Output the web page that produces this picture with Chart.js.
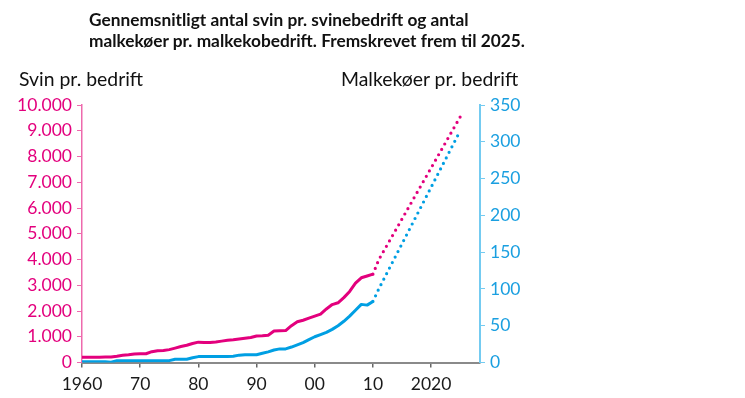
<!DOCTYPE html>
<html>
<head>
<meta charset="utf-8">
<script src="https://cdn.jsdelivr.net/npm/chart.js@4.4.1/dist/chart.umd.min.js"></script>
<style>
  body { margin: 0; background: #fff; }
  #wrap { position: relative; width: 745px; height: 398px; font-family: Lato, sans-serif; }
  #chart { position: absolute; left: 0; top: 0; }
  .title { position: absolute; left: 89px; top: 9px; font-weight: bold; font-size: 17.3px; line-height: 21px; color: #111; white-space: nowrap; }
  .axis-title { position: absolute; font-size: 19.4px; color: #111; white-space: nowrap; }
</style>
</head>
<body>
<div id="wrap">
  <canvas id="chart" width="745" height="398"></canvas>
  <div class="title">Gennemsnitligt antal svin pr. svinebedrift og antal<br>malkekøer pr. malkekobedrift. Fremskrevet frem til 2025.</div>
  <div class="axis-title" style="left:19px; top:67px;">Svin pr. bedrift</div>
  <div class="axis-title" style="left:341px; top:67px;">Malkekøer pr. bedrift</div>
</div>
<script>
// observed data 1960-2010 (solid)
const years = [
  1960, 1961, 1962, 1963, 1964, 1965, 1966, 1967, 1968, 1969,
  1970, 1971, 1972, 1973, 1974, 1975, 1976, 1977, 1978, 1979,
  1980, 1981, 1982, 1983, 1984, 1985, 1986, 1987, 1988, 1989,
  1990, 1991, 1992, 1993, 1994, 1995, 1996, 1997, 1998, 1999,
  2000, 2001, 2002, 2003, 2004, 2005, 2006, 2007, 2008, 2009, 2010
];
const svin = [
  200, 200, 205, 205, 210, 210, 240, 280, 300, 330,
  340, 340, 420, 460, 470, 500, 560, 620, 670, 740,
  790, 775, 780, 800, 830, 860, 880, 910, 940, 970,
  1030, 1040, 1060, 1220, 1230, 1240, 1430, 1580, 1640, 1720,
  1800, 1880, 2080, 2250, 2320, 2520, 2760, 3080, 3290, 3360, 3430
];
const koer = [
  1, 1, 1, 1, 1, 0.5, 2.5, 2.5, 2.5, 2.5,
  2.5, 2.5, 2.5, 2.5, 2.5, 2.5, 4.5, 4.5, 4.5, 6.5,
  8, 8, 8, 8, 8, 8, 8.5, 10, 10.5, 10.5,
  10.5, 12.5, 14.5, 17, 18.5, 18.5, 21, 24, 27, 31,
  35, 38, 41, 45, 50, 56, 63, 71, 79, 78, 83
];

// projection 2010-2025 (dotted)
const projYears = [2010, 2011, 2025];
const svinProj = [3430, 3990, 9540];
const koerProj = [83, 100, 315];

// axes
const xTickYears = [1960, 1970, 1980, 1990, 2000, 2010, 2020];
const xTickLabels = ['1960', '70', '80', '90', '00', '10', '2020'];
const svinTickLabels = ['0', '1.000', '2.000', '3.000', '4.000', '5.000', '6.000', '7.000', '8.000', '9.000', '10.000'];
const koerTickLabels = ['0', '50', '100', '150', '200', '250', '300', '350'];

const PINK = '#e3007d';
const BLUE = '#009fe3';

const toPts = (xs, ys) => xs.map((x, i) => ({ x: x, y: ys[i] }));

const tickFont = { family: 'Lato', size: 17.5 };

new Chart(document.getElementById('chart').getContext('2d'), {
  type: 'line',
  data: {
    datasets: [
      {
        label: 'Svin',
        data: toPts(years, svin),
        yAxisID: 'ySvin',
        borderColor: PINK,
        borderWidth: 3,
        pointRadius: 0,
        tension: 0,
        borderJoinStyle: 'round'
      },
      {
        label: 'Svin fremskrevet',
        data: toPts(projYears, svinProj),
        yAxisID: 'ySvin',
        borderColor: PINK,
        borderWidth: 3.2,
        borderDash: [0, 6.2],
        borderCapStyle: 'round',
        pointRadius: 0,
        tension: 0
      },
      {
        label: 'Malkekøer',
        data: toPts(years, koer),
        yAxisID: 'yKoer',
        borderColor: BLUE,
        borderWidth: 3,
        pointRadius: 0,
        tension: 0,
        borderJoinStyle: 'round'
      },
      {
        label: 'Malkekøer fremskrevet',
        data: toPts(projYears, koerProj),
        yAxisID: 'yKoer',
        borderColor: BLUE,
        borderWidth: 3.2,
        borderDash: [0, 6.2],
        borderCapStyle: 'round',
        pointRadius: 0,
        tension: 0
      }
    ]
  },
  options: {
    responsive: false,
    animation: false,
    devicePixelRatio: 1,
    layout: { padding: { top: 105, left: 0, right: 0, bottom: 0 } },
    plugins: {
      legend: { display: false },
      tooltip: { enabled: false }
    },
    scales: {
      x: {
        type: 'linear',
        min: 1960,
        max: 2028.4,
        afterFit: (s) => { s.height = 35.5; },
        afterBuildTicks: (s) => { s.ticks = xTickYears.map(v => ({ value: v })); },
        border: { color: '#8a8a8a', width: 2 },
        grid: { drawOnChartArea: false, drawTicks: true, tickLength: 5, tickColor: '#666', lineWidth: 1.5 },
        ticks: {
          autoSkip: false,
          maxRotation: 0,
          padding: 6,
          color: '#1a1a1a',
          font: tickFont,
          callback: (v, i) => xTickLabels[i]
        }
      },
      ySvin: {
        position: 'left',
        min: 0,
        max: 10000,
        afterFit: (s) => { s.width = 82; },
        afterBuildTicks: (s) => { s.ticks = svinTickLabels.map((t, i) => ({ value: i * 1000 })); },
        border: { color: '#ee6aad', width: 1.5 },
        grid: { drawOnChartArea: false, drawTicks: true, tickLength: 5, tickColor: '#ee6aad' },
        ticks: {
          padding: 5,
          color: PINK,
          font: tickFont,
          callback: (v, i) => svinTickLabels[i]
        }
      },
      yKoer: {
        position: 'right',
        min: 0,
        max: 350,
        afterFit: (s) => { s.width = 265; },
        afterBuildTicks: (s) => { s.ticks = koerTickLabels.map((t, i) => ({ value: i * 50 })); },
        border: { color: '#74cbf1', width: 2 },
        grid: { drawOnChartArea: false, drawTicks: true, tickLength: 5, tickColor: '#74cbf1' },
        ticks: {
          padding: 5,
          color: '#1a9fe0',
          font: tickFont,
          callback: (v, i) => koerTickLabels[i]
        }
      }
    }
  }
});
</script>
</body>
</html>
